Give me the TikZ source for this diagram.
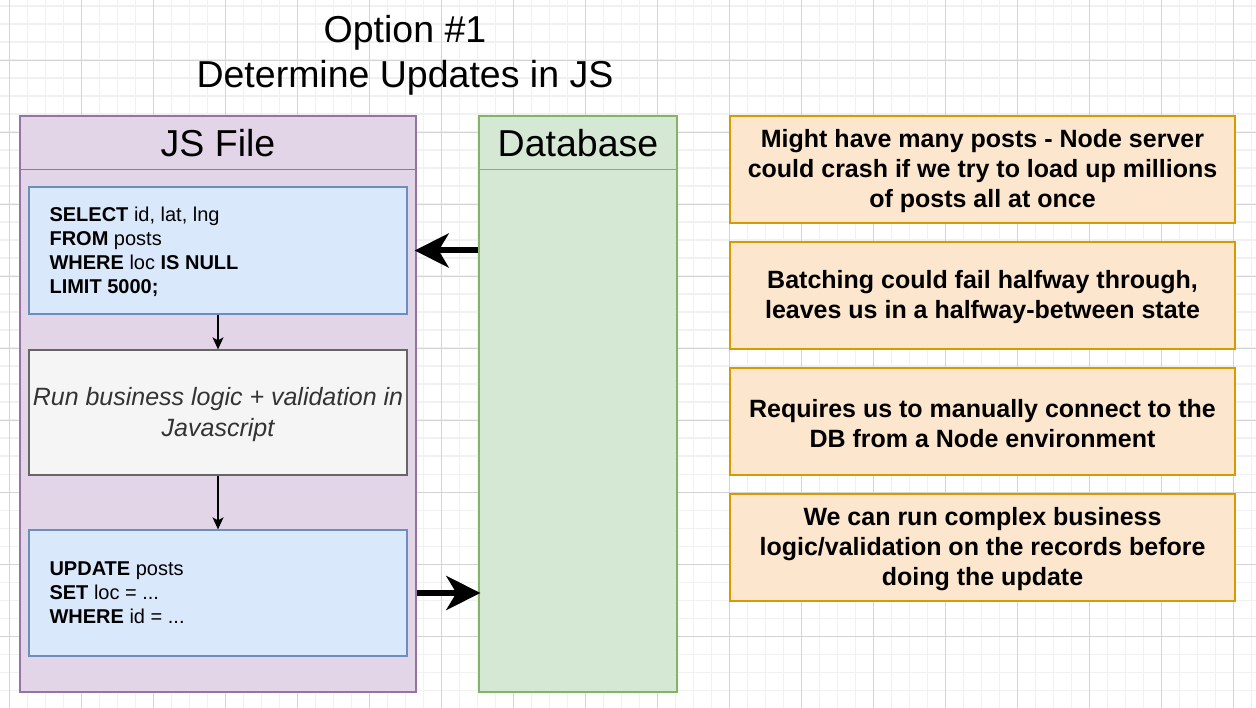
\documentclass[tikz,border=0pt]{standalone}
\usepackage{fontspec}
\setmainfont{Liberation Sans}
\usetikzlibrary{arrows.meta}
\definecolor{pfill}{HTML}{E1D5E7}
\definecolor{pline}{HTML}{9673A6}
\definecolor{gfill}{HTML}{D5E8D4}
\definecolor{gline}{HTML}{82B366}
\definecolor{bfill}{HTML}{DAE8FC}
\definecolor{bline}{HTML}{6C8EBF}
\definecolor{sfill}{HTML}{F5F5F5}
\definecolor{sline}{HTML}{666666}
\definecolor{stext}{HTML}{333333}
\definecolor{ofill}{HTML}{FCE6CD}
\definecolor{oline}{HTML}{D79B00}
\definecolor{gridminor}{HTML}{F1F1F1}
\definecolor{gridmajor}{HTML}{D4D4D4}
\begin{document}
\begin{tikzpicture}[x=1pt,y=-1pt,
  minorgrid/.style={draw=gridminor, line width=1.6pt},
  majorgrid/.style={draw=gridmajor, line width=0.9pt},
  shapebox/.style={draw, line width=1.3pt, inner sep=0pt},
  jsbox/.style={shapebox, fill=pfill, draw=pline},
  dbbox/.style={shapebox, fill=gfill, draw=gline},
  sqlbox/.style={shapebox, fill=bfill, draw=bline},
  logicbox/.style={shapebox, fill=sfill, draw=sline, text=stext, align=center,
    font=\fontsize{25}{30}\selectfont\itshape},
  notebox/.style={shapebox, fill=ofill, draw=oline,
    minimum width=505pt, minimum height=107pt},
  notetext/.style={align=center, inner sep=0pt,
    font=\fontsize{25}{30}\selectfont\bfseries},
  headtext/.style={font=\fontsize{37.5}{45}\selectfont, inner sep=0pt},
  sqltext/.style={align=left, anchor=west, inner sep=0pt,
    font=\fontsize{20}{24}\selectfont},
  thin arrow/.style={draw, line width=1.3pt, -{Stealth[length=12pt,width=11pt,inset=3pt]}},
  fat arrow/.style={draw, line width=6pt, -{Stealth[length=34pt,width=34pt,inset=10pt]}, shorten >=-2pt}
]
\useasboundingbox (0,0) rectangle (1256,708);
\fill[white] (0,0) rectangle (1256,708);
% grid
\foreach \x in {9.5,27.5,...,1260} \draw[minorgrid] (\x,0) -- (\x,708);
\foreach \y in {6.3,24.3,...,710} \draw[minorgrid] (0,\y) -- (1256,\y);
\foreach \x in {9.5,81.5,...,1260} \draw[majorgrid] (\x,0) -- (\x,708);
\foreach \y in {60.3,132.3,...,710} \draw[majorgrid] (0,\y) -- (1256,\y);

% title
\node[headtext, align=center] (title) at (405,55.5) {Option \#1\\Determine Updates in JS};

% containers
\node[jsbox, minimum width=396pt, minimum height=576pt] (js) at (218,404) {};
\draw[pline, line width=1.3pt] ([yshift=-54pt]js.north west) -- ([yshift=-54pt]js.north east);
\node[headtext] (jshead) at (218,143) {JS File};

\node[dbbox, minimum width=198pt, minimum height=576pt] (db) at (578,404) {};
\draw[gline, line width=1.3pt] ([yshift=-54pt]db.north west) -- ([yshift=-54pt]db.north east);
\node[headtext] (dbhead) at (578,143) {Database};

% inner boxes
\node[sqlbox, minimum width=378pt, minimum height=127pt] (sel) at (218,250.5) {};
\node[sqltext] (seltext) at ([xshift=21pt,yshift=-1pt]sel.west)
  {\textbf{SELECT} id, lat, lng\\\textbf{FROM} posts\\\textbf{WHERE} loc \textbf{IS NULL}\\\textbf{LIMIT 5000;}};

\node[logicbox, minimum width=378pt, minimum height=125pt] (run) at (218,412.5) {};
\node[notetext, font=\fontsize{25}{31}\selectfont\itshape, text=stext] (runtext) at ([yshift=-2pt]run.center)
  {Run business logic + validation in\\Javascript};

\node[sqlbox, minimum width=378pt, minimum height=126pt] (upd) at (218,593) {};
\node[sqltext] (updtext) at ([xshift=21pt]upd.west)
  {\textbf{UPDATE} posts\\\textbf{SET} loc = ...\\\textbf{WHERE} id = ...};

\draw[thin arrow] (sel) -- (run);
\draw[thin arrow] (run) -- (upd);

\draw[fat arrow] (db.west |- sel.east) -- (js.east |- sel.east);
\draw[fat arrow] (js.east |- upd.east) -- (db.west |- upd.east);

% notes
\node[notebox] (n1) at (982.5,169.5) {};
\node[notetext] (t1) at ([yshift=-2pt]n1.center) {Might have many posts - Node server\\could crash if we try to load up millions\\of posts all at once};
\node[notebox] (n2) at (982.5,295.5) {};
\node[notetext] (t2) at ([yshift=-2pt]n2.center) {Batching could fail halfway through,\\leaves us in a halfway-between state};
\node[notebox] (n3) at (982.5,421.5) {};
\node[notetext] (t3) at ([yshift=-2pt]n3.center) {Requires us to manually connect to the\\DB from a Node environment};
\node[notebox] (n4) at (982.5,547.5) {};
\node[notetext] (t4) at ([yshift=-2pt]n4.center) {We can run complex business\\logic/validation on the records before\\doing the update};
\end{tikzpicture}
\end{document}
